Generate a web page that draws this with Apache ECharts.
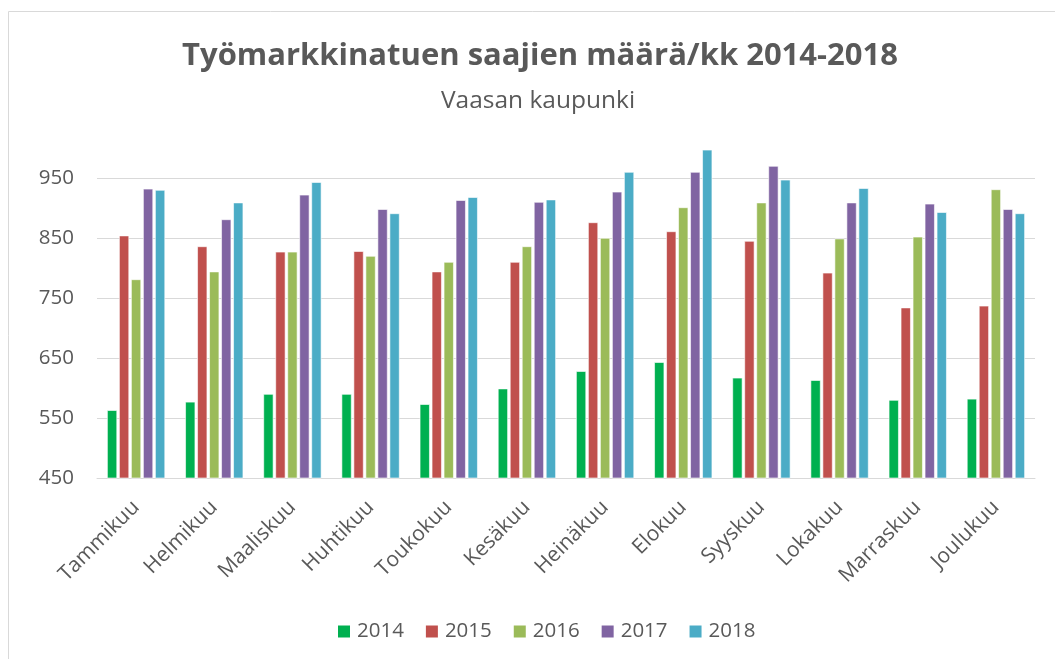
<!DOCTYPE html>
<html>
<head>
<meta charset="utf-8">
<script src="https://cdn.jsdelivr.net/npm/echarts@6/dist/echarts.min.js"></script>
<style>
  html, body { margin: 0; padding: 0; background: #fff; }
  #main { width: 1055px; height: 659px; }
</style>
</head>
<body>
<div id="main"></div>
<script>
// kuukaudet
const months = ['Tammikuu', 'Helmikuu', 'Maaliskuu', 'Huhtikuu', 'Toukokuu', 'Kesäkuu',
  'Heinäkuu', 'Elokuu', 'Syyskuu', 'Lokakuu', 'Marraskuu', 'Joulukuu']

const years = ['2014', '2015', '2016', '2017', '2018']

// saajien määrä / kk, luettu kuvasta
const v2014 = [563, 577, 590, 590, 573, 599, 628, 643, 617, 613, 580, 582]
const v2015 = [854, 836, 827, 828, 794, 810, 876, 861, 845, 792, 734, 737]
const v2016 = [781, 794, 827, 820, 810, 836, 850, 901, 909, 849, 852, 931]
const v2017 = [932, 881, 922, 898, 913, 910, 927, 960, 970, 909, 907, 898]
const v2018 = [930, 909, 943, 891, 918, 914, 960, 997, 947, 933, 893, 891]

const yTicks = { min: 450, max: 1000, step: 100 }

const colors = ['#00B050', '#C0504D', '#9BBB59', '#8064A2', '#4BACC6']
const seriesValues = [v2014, v2015, v2016, v2017, v2018]

const font = '"Open Sans", "Liberation Sans", sans-serif'
const textColor = '#595959'

const chart = echarts.init(document.getElementById('main'))

const option = {
  animation: false,
  textStyle: { fontFamily: font },
  graphic: [
    {
      type: 'rect',
      shape: { x: 8.5, y: 11.5, width: 1100, height: 700 },
      style: { fill: 'none', stroke: '#d9d9d9', lineWidth: 1 },
      silent: true
    }
  ],
  title: [
    {
      text: 'Työmarkkinatuen saajien määrä/kk 2014-2018',
      left: 535,
      top: 36,
      textAlign: 'center',
      textStyle: { fontFamily: font, fontSize: 31, fontWeight: 'bold', color: textColor }
    },
    {
      text: 'Vaasan kaupunki',
      left: 533,
      top: 84,
      textAlign: 'center',
      textStyle: { fontFamily: font, fontSize: 24.5, fontWeight: 'normal', color: textColor }
    }
  ],
  legend: {
    left: 331,
    top: 616,
    itemWidth: 14,
    itemHeight: 14,
    itemGap: 20,
    icon: 'rect',
    data: years,
    textStyle: { fontFamily: font, fontSize: 20.5, color: textColor, padding: [0, 0, 0, 1] }
  },
  grid: {
    left: 97,
    right: 20,
    top: 148,
    bottom: 181
  },
  xAxis: {
    type: 'category',
    data: months,
    axisTick: { show: false },
    axisLine: { lineStyle: { color: '#d9d9d9', width: 1 } },
    axisLabel: {
      rotate: 45,
      interval: 0,
      margin: 26,
      fontFamily: font,
      fontSize: 21,
      color: textColor
    }
  },
  yAxis: {
    type: 'value',
    min: yTicks.min,
    max: yTicks.max,
    interval: yTicks.step,
    axisLine: { show: false },
    axisTick: { show: false },
    axisLabel: {
      showMaxLabel: false,
      margin: 23,
      fontFamily: font,
      fontSize: 20.5,
      color: textColor
    },
    splitLine: {
      showMaxLine: false,
      lineStyle: { color: '#d9d9d9', width: 1 }
    }
  },
  series: years.map((y, i) => ({
    name: y,
    type: 'bar',
    data: seriesValues[i],
    barWidth: 10,
    barGap: '20%',
    itemStyle: {
      color: colors[i],
      borderColor: '#ffffff',
      borderWidth: 0.6
    }
  }))
}

chart.setOption(option)
</script>
</body>
</html>
